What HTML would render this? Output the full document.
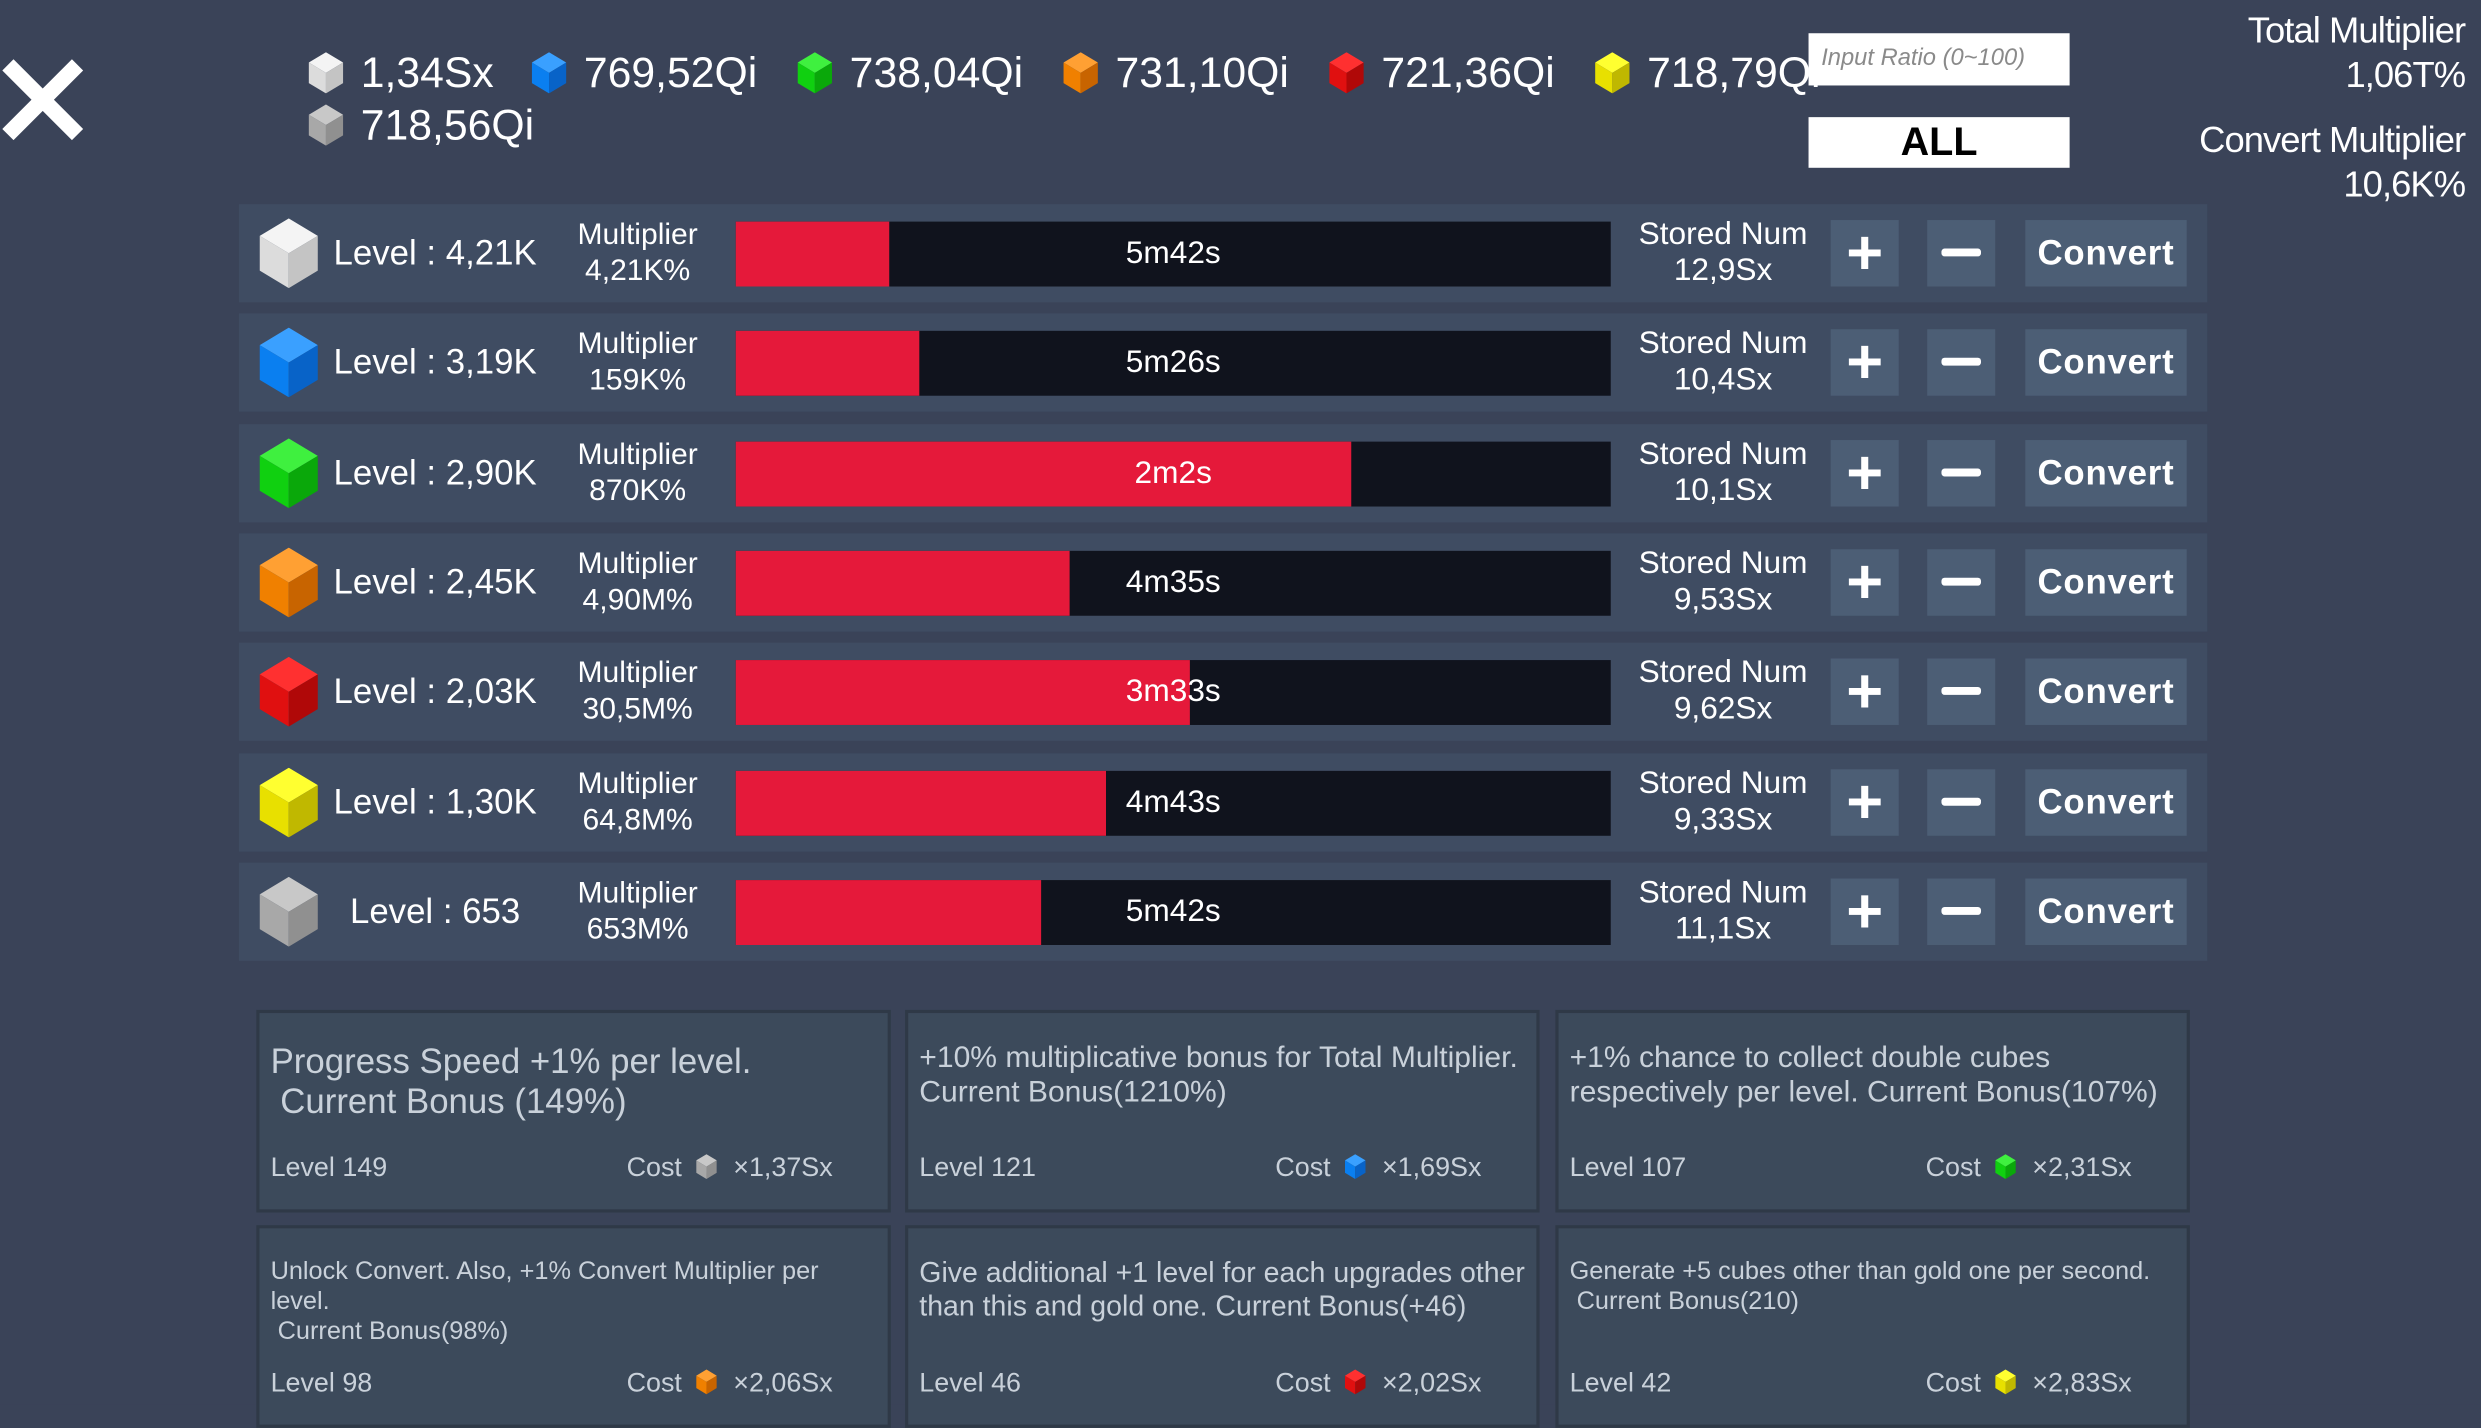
<!DOCTYPE html>
<html><head><meta charset="utf-8"><style>
html,body{margin:0;padding:0;background:#3a4358;overflow:hidden;}
#w{position:absolute;left:0;top:0;width:1568px;height:887px;transform:scale(1.58227,1.5829);transform-origin:0 0;background:#3a4358;font-family:"Liberation Sans",sans-serif;color:#fff;}
.a{position:absolute;white-space:nowrap;}
.row{position:absolute;left:151px;width:1244px;height:62px;background:#3f4c62;}
.bar{position:absolute;left:314px;top:11px;width:553px;height:41px;background:#10131d;}
.bar .r{position:absolute;left:0;top:0;height:41px;background:#e5193a;}
.bar .t{position:absolute;left:0;width:553px;top:0;line-height:41px;text-align:center;font-size:20px;}
.btn{position:absolute;top:10px;height:42px;background:#4c5e75;color:#fff;text-align:center;line-height:42px;}
.two{position:absolute;text-align:center;font-size:19px;line-height:23px;}
.card{position:absolute;width:397px;background:#3c4a5b;border:2px solid #2f3947;color:#c9d1da;}
.card .d{position:absolute;left:7px;top:16px;width:390px;white-space:normal;}
.card .lv{position:absolute;left:7px;top:88px;font-size:17px;}
.card .c{position:absolute;left:232px;top:88px;font-size:17px;}
svg{display:block}
</style></head><body><div id="w">
<svg class="a" style="left:0px;top:36px" width="54" height="54" viewBox="0 0 54 54"><path d="M5 5L49 49M49 5L5 49" stroke="#fff" stroke-width="10"/></svg>

<div id="top"></div>

<div class="a" style="left:1143px;top:21px;width:165px;height:33px;background:#fff;color:#8a8a8a;font-style:italic;font-size:15px;line-height:31px;text-indent:8px;">Input Ratio (0~100)</div>
<div class="a" style="left:1143px;top:74px;width:165px;height:32px;background:#fff;color:#000;font-weight:bold;font-size:25px;line-height:33px;text-align:center;">ALL</div>
<div class="a" style="right:10px;top:5px;text-align:right;font-size:23px;line-height:28px;letter-spacing:-0.6px">Total Multiplier<br>1,06T%</div>
<div class="a" style="right:10px;top:74px;text-align:right;font-size:23px;line-height:28px;letter-spacing:-0.6px">Convert Multiplier<br>10,6K%</div>

<div id="rows"></div>
<div id="cards"></div>
</div>
<script>
function cube(c,w,h){var m={w:['#f4f4f4','#dcdcdc','#c4c4c4'],b:['#3aa0ff','#0a7ff0','#0863c8'],g:['#3ff03f','#10d010','#0aa80a'],o:['#ffa033','#f08000','#c86400'],r:['#ff3030','#e01010','#b00808'],y:['#ffff30','#e8e000','#c0b800'],s:['#c8c8c8','#a8a8a8','#909090']}[c];
return '<svg width="'+w+'" height="'+h+'" viewBox="0 0 20 24"><polygon points="10,0 20,6 10,12 0,6" fill="'+m[0]+'"/><polygon points="0,6 10,12 10,24 0,18" fill="'+m[1]+'"/><polygon points="20,6 10,12 10,24 20,18" fill="'+m[2]+'"/></svg>';}
var t='',it=[['w',195,228,46,'1,34Sx'],['b',336,369,46,'769,52Qi'],['g',504,537,46,'738,04Qi'],['o',672,705,46,'731,10Qi'],['r',840,873,46,'721,36Qi'],['y',1008,1041,46,'718,79Qi'],['s',195,228,79,'718,56Qi']];
it.forEach(function(a){t+='<div class="a" style="left:'+a[1]+'px;top:'+(a[3]-13)+'px">'+cube(a[0],22,26)+'</div><div class="a" style="left:'+a[2]+'px;top:'+(a[3]-16)+'px;font-size:27px;line-height:32px">'+a[4]+'</div>';});
document.getElementById('top').innerHTML=t;
var R=[['w','Level : 4,21K','4,21K%',97,'5m42s','12,9Sx'],['b','Level : 3,19K','159K%',116,'5m26s','10,4Sx'],['g','Level : 2,90K','870K%',389,'2m2s','10,1Sx'],['o','Level : 2,45K','4,90M%',211,'4m35s','9,53Sx'],['r','Level : 2,03K','30,5M%',287,'3m33s','9,62Sx'],['y','Level : 1,30K','64,8M%',234,'4m43s','9,33Sx'],['s','Level : 653','653M%',193,'5m42s','11,1Sx']];
var ys=[129,198,268,337,406,476,545],h='';
R.forEach(function(r,i){h+='<div class="row" style="top:'+ys[i]+'px"><div class="a" style="left:13px;top:9px">'+cube(r[0],37,44)+'</div><div class="a" style="left:59px;width:130px;top:0;line-height:62px;font-size:22px;text-align:center">'+r[1]+'</div><div class="two" style="left:202px;width:100px;top:8px">Multiplier<br>'+r[2]+'</div><div class="bar"><div class="r" style="width:'+r[3]+'px"></div><div class="t">'+r[4]+'</div></div><div class="two" style="left:878px;width:120px;top:8px;font-size:20px">Stored Num<br>'+r[5]+'</div><div class="btn" style="left:1006px;width:43px;font-size:40px;font-weight:bold">+</div><div class="btn" style="left:1067px;width:43px;"><div style="position:absolute;left:9px;top:18px;width:25px;height:5px;background:#fff;border-radius:2px"></div></div><div class="btn" style="left:1129px;width:102px;font-size:22px;font-weight:bold;letter-spacing:.5px">Convert</div></div>';});
document.getElementById('rows').innerHTML=h;
var C=[[162,638,'Progress Speed +1% per level.<br>&nbsp;Current Bonus (149%)',22,'Level 149','s'," ×1,37Sx",18,390],
[572,638,'+10% multiplicative bonus for Total Multiplier.<br>Current Bonus(1210%)',19,'Level 121','b',' ×1,69Sx',18,390],
[983,638,'+1% chance to collect double cubes respectively per level. Current Bonus(107%)',19,'Level 107','g',' ×2,31Sx',18,390],
[162,774,'Unlock Convert. Also, +1% Convert Multiplier per<br>level.<br>&nbsp;Current Bonus(98%)',16,'Level 98','o',' ×2,06Sx',18,390],
[572,774,'Give additional +1 level for each upgrades other than this and gold one. Current Bonus(+46)',18,'Level 46','r',' ×2,02Sx',18,392],
[983,774,'Generate +5 cubes other than gold one per second.<br>&nbsp;Current Bonus(210)',16,'Level 42','y',' ×2,83Sx',18,390]];
var c='';
C.forEach(function(k){c+='<div class="card" style="left:'+k[0]+'px;top:'+k[1]+'px;height:124px"><div class="d" style="top:'+k[7]+'px;width:'+k[8]+'px;font-size:'+k[3]+'px;line-height:'+(k[3]+3)+'px">'+k[2]+'</div><div class="lv">'+k[4]+'</div><div class="c">Cost <span style="display:inline-block;vertical-align:-2px;margin:0 6px 0 4px">'+cube(k[5],13,16)+'</span>'+k[6]+'</div></div>';});
document.getElementById('cards').innerHTML=c;
</script>
</body></html>
